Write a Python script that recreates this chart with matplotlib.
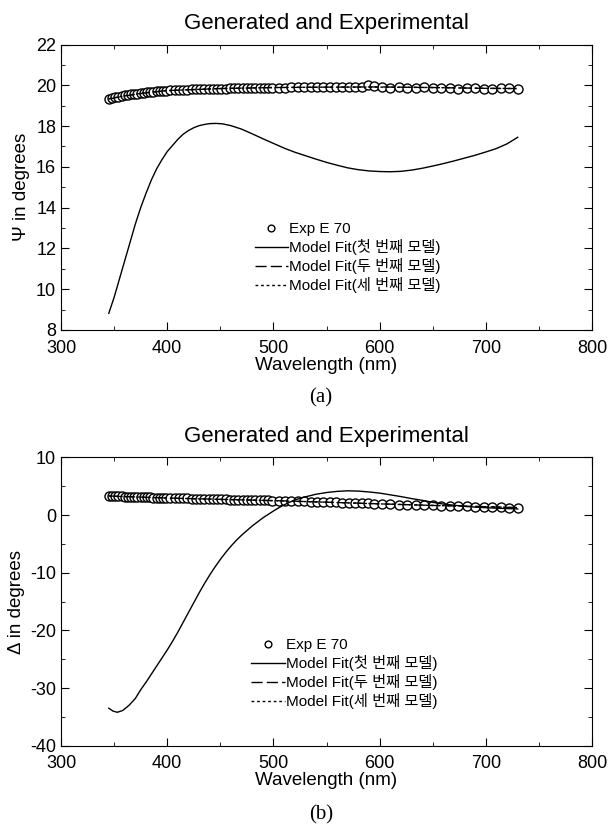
import matplotlib.pyplot as plt
from matplotlib.ticker import MultipleLocator

plt.rcParams['font.family'] = ['Liberation Sans', 'Noto Sans CJK KR']
plt.rcParams['axes.unicode_minus'] = False

# Experimental wavelengths (nm)
wavelength = [345, 348, 351, 354, 357, 360, 363, 366, 369, 372, 375, 378, 381, 384, 387, 390, 393, 396, 399,
              403, 407, 411, 415, 419, 423, 427, 431, 435, 439, 443, 447, 451, 455, 459, 463, 467, 471, 475, 479,
              483, 487, 491, 495, 499,
              505, 511, 517, 523, 529, 535, 541, 547, 553, 559, 565, 571, 577, 583, 589, 595,
              602, 610, 618, 626, 634, 642, 650, 658, 666, 674, 682, 690, 698, 706, 714, 722, 730]

psi_exp = [19.35, 19.38, 19.42, 19.45, 19.48, 19.50, 19.52, 19.55, 19.57, 19.59, 19.61, 19.63, 19.65, 19.67,
           19.68, 19.70, 19.71, 19.73, 19.74,
           19.75, 19.76, 19.77, 19.78, 19.79, 19.80, 19.80, 19.81, 19.82, 19.82, 19.83, 19.83, 19.84, 19.84,
           19.85, 19.85, 19.86, 19.86, 19.87, 19.87, 19.87, 19.88, 19.88, 19.88, 19.89,
           19.89, 19.89, 19.90, 19.90, 19.90, 19.91, 19.91, 19.91, 19.92, 19.92, 19.92, 19.92, 19.93, 19.93,
           20.02, 19.95,
           19.90, 19.88, 19.90, 19.89, 19.88, 19.90, 19.89, 19.87, 19.86, 19.84, 19.86, 19.85, 19.83, 19.80,
           19.88, 19.87, 19.84]

delta_exp = [3.30, 3.32, 3.28, 3.25, 3.22, 3.20, 3.18, 3.16, 3.14, 3.12, 3.10, 3.08, 3.06, 3.05, 3.03, 3.01,
             3.00, 2.98, 2.97,
             2.95, 2.93, 2.91, 2.89, 2.87, 2.85, 2.83, 2.81, 2.80, 2.78, 2.76, 2.74, 2.72, 2.70, 2.68, 2.66,
             2.64, 2.63, 2.61, 2.59, 2.57, 2.55, 2.54, 2.52, 2.51,
             2.48, 2.45, 2.42, 2.38, 2.35, 2.32, 2.28, 2.25, 2.21, 2.18, 2.14, 2.11, 2.07, 2.04, 2.00, 1.97,
             1.92, 1.87, 1.82, 1.78, 1.74, 1.70, 1.66, 1.62, 1.58, 1.54, 1.50, 1.46, 1.42, 1.38, 1.34, 1.30,
             1.27]

# Model 1 (첫 번째 모델)
fit1_wl = [345, 350, 355, 360, 365, 370, 375, 380, 385, 390, 395, 400, 405, 410, 415, 420, 425, 430, 435,
           440, 446, 452, 460, 470, 480, 490, 500, 510, 520, 530, 540, 550, 560, 570, 580, 590, 600, 610,
           620, 630, 640, 650, 660, 670, 680, 690, 700, 710, 720, 730]
psi_fit1 = [8.82, 9.6, 10.5, 11.4, 12.3, 13.2, 14.0, 14.7, 15.35, 15.9, 16.35, 16.75, 17.05, 17.35, 17.6,
            17.78, 17.92, 18.02, 18.08, 18.12, 18.13, 18.11, 18.02, 17.85, 17.62, 17.38, 17.15, 16.92, 16.72,
            16.55, 16.38, 16.22, 16.08, 15.95, 15.86, 15.8, 15.77, 15.76, 15.78, 15.84, 15.93, 16.04, 16.16,
            16.29, 16.43, 16.57, 16.73, 16.9, 17.13, 17.45]

fit1_wl_d = [345, 349, 353, 358, 364, 370, 375, 380, 385, 390, 395, 400, 405, 410, 415, 420, 425, 430, 435,
             440, 445, 450, 455, 460, 465, 470, 475, 480, 485, 490, 495, 500, 505, 510, 515, 520, 530, 540,
             550, 560, 570, 580, 590, 600, 610, 620, 630, 640, 650, 660, 670, 680, 690, 700, 715, 730]
delta_fit1 = [-33.5, -34.0, -34.2, -33.9, -33.0, -31.8, -30.3, -29.0, -27.6, -26.2, -24.8, -23.4, -21.9,
              -20.3, -18.6, -16.9, -15.2, -13.5, -11.9, -10.4, -9.0, -7.7, -6.5, -5.4, -4.4, -3.5, -2.7,
              -1.9, -1.2, -0.5, 0.1, 0.7, 1.25, 1.75, 2.2, 2.6, 3.15, 3.6, 3.9, 4.1, 4.2, 4.15, 4.0, 3.8, 3.5,
              3.2, 2.85, 2.55, 2.2, 1.9, 1.7, 1.5, 1.37, 1.27, 1.15, 1.05]

# Model 2 and 3 (두 번째 / 세 번째 모델)
fit23_wl = [345, 360, 380, 400, 450, 500, 550, 600, 650, 700, 730]
psi_fit2 = [19.33, 19.48, 19.63, 19.74, 19.84, 19.89, 19.91, 19.92, 19.89, 19.85, 19.84]
psi_fit3 = [19.34, 19.49, 19.64, 19.74, 19.84, 19.89, 19.91, 19.91, 19.89, 19.85, 19.84]
delta_fit2 = [3.30, 3.20, 3.07, 2.95, 2.72, 2.50, 2.23, 1.94, 1.66, 1.44, 1.28]
delta_fit3 = [3.29, 3.19, 3.06, 2.94, 2.71, 2.49, 2.22, 1.93, 1.66, 1.44, 1.28]

labels = ['Exp E 70', 'Model Fit(첫 번째 모델)', 'Model Fit(두 번째 모델)', 'Model Fit(세 번째 모델)']

fig = plt.figure(figsize=(6.09, 8.32), dpi=100)
ax1 = fig.add_axes([0.1002, 0.6034, 0.872, 0.3431])
ax2 = fig.add_axes([0.1002, 0.1037, 0.872, 0.3466])


def draw(ax, exp, f1x, f1, f2, f3, ylabel, ylim, ymajor, yminor, anchor):
    ax.plot(wavelength, exp, 'o', mfc='white', mec='black', ms=6.5, mew=1.0, label=labels[0], zorder=2)
    ax.plot(f1x, f1, '-', color='black', lw=1.0, label=labels[1], zorder=3)
    ax.plot(fit23_wl, f2, '--', color='black', lw=1.0, dashes=(8, 3), label=labels[2], zorder=3)
    ax.plot(fit23_wl, f3, ':', color='black', lw=1.0, dashes=(2, 2), label=labels[3], zorder=3)
    ax.set_xlim(300, 800)
    ax.set_ylim(*ylim)
    ax.xaxis.set_major_locator(MultipleLocator(100))
    ax.xaxis.set_minor_locator(MultipleLocator(50))
    ax.yaxis.set_major_locator(MultipleLocator(ymajor))
    ax.yaxis.set_minor_locator(MultipleLocator(yminor))
    ax.tick_params(which='both', direction='in', top=True, right=True, labelsize=13)
    ax.tick_params(which='major', length=6)
    ax.tick_params(which='minor', length=3)
    ax.tick_params(axis='x', pad=7)
    ax.set_xlabel('Wavelength (nm)', fontsize=13.5, labelpad=0)
    ax.set_ylabel(ylabel, fontsize=13.5, labelpad=4)
    ax.set_title('Generated and Experimental', fontsize=16, pad=11)
    ax.legend(loc='upper left', bbox_to_anchor=anchor, frameon=False, fontsize=11,
              handlelength=2.2, handletextpad=0.05, labelspacing=0.2, borderpad=0, markerscale=0.75)


draw(ax1, psi_exp, fit1_wl, psi_fit1, psi_fit2, psi_fit3, 'Ψ in degrees', (8, 22), 2, 1, (0.35, 0.405))
draw(ax2, delta_exp, fit1_wl_d, delta_fit1, delta_fit2, delta_fit3, 'Δ in degrees', (-40, 10), 10, 5,
     (0.344, 0.40))

fig.text(321 / 609, 1 - 398 / 832, '(a)', ha='center', va='center', fontsize=15, family='Liberation Serif')
fig.text(321 / 609, 1 - 815 / 832, '(b)', ha='center', va='center', fontsize=15, family='Liberation Serif')

fig.savefig('out.png', dpi=100)
